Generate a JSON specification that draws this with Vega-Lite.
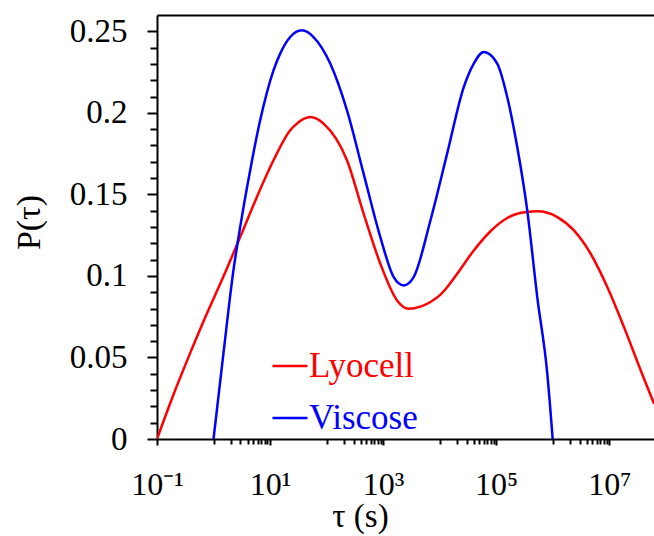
{
  "$schema": "https://vega.github.io/schema/vega-lite/v6.json",
  "width": 497,
  "height": 424,
  "autosize": {"type": "none"},
  "padding": {"left": 157, "top": 15, "right": 0, "bottom": 97},
  "background": "white",
  "config": {
    "view": {"stroke": null},
    "axis": {"grid": false, "domainColor": "black", "tickColor": "black", "labelColor": "black", "titleColor": "black", "labelFont": "Liberation Serif", "titleFont": "Liberation Serif", "domainWidth": 2, "tickWidth": 2, "titleFontWeight": "normal"}
  },
  "data": {"values": [
    {"sample": "Lyocell", "tau": 0.1, "P": 0},
    {"sample": "Lyocell", "tau": 0.1945, "P": 0.027},
    {"sample": "Lyocell", "tau": 0.3846, "P": 0.0525},
    {"sample": "Lyocell", "tau": 0.7603, "P": 0.0768},
    {"sample": "Lyocell", "tau": 1.496, "P": 0.0996},
    {"sample": "Lyocell", "tau": 2.958, "P": 0.1238},
    {"sample": "Lyocell", "tau": 5.834, "P": 0.1483},
    {"sample": "Lyocell", "tau": 11.51, "P": 0.1709},
    {"sample": "Lyocell", "tau": 22.75, "P": 0.1893},
    {"sample": "Lyocell", "tau": 29.85, "P": 0.1934},
    {"sample": "Lyocell", "tau": 51.4, "P": 0.1974},
    {"sample": "Lyocell", "tau": 88.31, "P": 0.1934},
    {"sample": "Lyocell", "tau": 229.6, "P": 0.1709},
    {"sample": "Lyocell", "tau": 451.9, "P": 0.1382},
    {"sample": "Lyocell", "tau": 893.1, "P": 0.1075},
    {"sample": "Lyocell", "tau": 1766, "P": 0.085},
    {"sample": "Lyocell", "tau": 2838, "P": 0.0799},
    {"sample": "Lyocell", "tau": 4571, "P": 0.0812},
    {"sample": "Lyocell", "tau": 6871, "P": 0.084},
    {"sample": "Lyocell", "tau": 10330, "P": 0.0885},
    {"sample": "Lyocell", "tau": 13583, "P": 0.0931},
    {"sample": "Lyocell", "tau": 20420, "P": 0.1013},
    {"sample": "Lyocell", "tau": 40180, "P": 0.1156},
    {"sample": "Lyocell", "tau": 79430, "P": 0.1274},
    {"sample": "Lyocell", "tau": 157000, "P": 0.1355},
    {"sample": "Lyocell", "tau": 236000, "P": 0.1381},
    {"sample": "Lyocell", "tau": 354800, "P": 0.1392},
    {"sample": "Lyocell", "tau": 533300, "P": 0.1396},
    {"sample": "Lyocell", "tau": 1208000, "P": 0.1361},
    {"sample": "Lyocell", "tau": 2377000, "P": 0.1279},
    {"sample": "Lyocell", "tau": 4699000, "P": 0.1136},
    {"sample": "Lyocell", "tau": 9290000, "P": 0.0931},
    {"sample": "Lyocell", "tau": 18280000, "P": 0.0686},
    {"sample": "Lyocell", "tau": 36140000, "P": 0.042},
    {"sample": "Lyocell", "tau": 62090000, "P": 0.0216},
    {"sample": "Viscose", "tau": 1.0, "P": 0},
    {"sample": "Viscose", "tau": 1.496, "P": 0.0523},
    {"sample": "Viscose", "tau": 2.249, "P": 0.1034},
    {"sample": "Viscose", "tau": 2.958, "P": 0.1299},
    {"sample": "Viscose", "tau": 4.446, "P": 0.1647},
    {"sample": "Viscose", "tau": 6.683, "P": 0.1954},
    {"sample": "Viscose", "tau": 11.51, "P": 0.2261},
    {"sample": "Viscose", "tau": 15.1, "P": 0.2363},
    {"sample": "Viscose", "tau": 22.75, "P": 0.2465},
    {"sample": "Viscose", "tau": 36.64, "P": 0.2506},
    {"sample": "Viscose", "tau": 58.75, "P": 0.2465},
    {"sample": "Viscose", "tau": 116.1, "P": 0.2302},
    {"sample": "Viscose", "tau": 229.6, "P": 0.2015},
    {"sample": "Viscose", "tau": 451.9, "P": 0.1627},
    {"sample": "Viscose", "tau": 893.1, "P": 0.1238},
    {"sample": "Viscose", "tau": 1538, "P": 0.0993},
    {"sample": "Viscose", "tau": 2312, "P": 0.0942},
    {"sample": "Viscose", "tau": 3475, "P": 0.0993},
    {"sample": "Viscose", "tau": 6871, "P": 0.134},
    {"sample": "Viscose", "tau": 13583, "P": 0.175},
    {"sample": "Viscose", "tau": 26730, "P": 0.2158},
    {"sample": "Viscose", "tau": 40180, "P": 0.2302},
    {"sample": "Viscose", "tau": 60390, "P": 0.2373},
    {"sample": "Viscose", "tau": 104500, "P": 0.2302},
    {"sample": "Viscose", "tau": 157000, "P": 0.2097},
    {"sample": "Viscose", "tau": 236000, "P": 0.179},
    {"sample": "Viscose", "tau": 354800, "P": 0.1402},
    {"sample": "Viscose", "tau": 533300, "P": 0.087},
    {"sample": "Viscose", "tau": 803500, "P": 0.04},
    {"sample": "Viscose", "tau": 1000000, "P": 0}
  ]},
  "layer": [
    {
      "mark": {"type": "line", "strokeOpacity": 0},
      "encoding": {
        "x": {"field": "tau", "type": "quantitative", "scale": {"type": "log", "domain": [0.1, 62000000], "nice": false},
          "axis": {"orient": "bottom", "values": [1,2,3,4,5,6,7,8,9,100,200,300,400,500,600,700,800,900,10000,20000,30000,40000,50000,60000,70000,80000,90000,1000000,2000000,3000000,4000000,5000000,6000000,7000000,8000000,9000000], "tickSize": 5, "labels": false, "domain": false, "title": null}},
        "y": {"field": "P", "type": "quantitative", "scale": {"domain": [0, 0.26], "nice": false},
          "axis": {"orient": "left", "values": [0.01,0.02,0.03,0.04,0.06,0.07,0.08,0.09,0.11,0.12,0.13,0.14,0.16,0.17,0.18,0.19,0.21,0.22,0.23,0.24], "tickSize": 7, "labels": false, "domain": false, "title": null}},
        "detail": {"field": "sample"}
      }
    },
    {
      "mark": {"type": "line", "strokeOpacity": 0},
      "encoding": {
        "x": {"field": "tau", "type": "quantitative", "axis": {"orient": "top", "domain": true, "ticks": false, "labels": false, "title": null}},
        "y": {"field": "P", "type": "quantitative", "axis": null},
        "detail": {"field": "sample"}
      }
    },
    {
      "mark": {"type": "line", "strokeWidth": 2.5, "interpolate": "monotone", "clip": true},
      "encoding": {
        "x": {"field": "tau", "type": "quantitative",
          "axis": {"orient": "bottom", "values": [0.1, 10, 1000, 100000, 10000000], "tickSize": 6, "labelPadding": 24, "labelFontSize": 32, "labelFlush": false, "labelOverlap": false,
            "labelExpr": "datum.value < 1 ? '10⁻¹' : datum.value < 100 ? '10¹' : datum.value < 10000 ? '10³' : datum.value < 1000000 ? '10⁵' : '10⁷'",
            "title": "τ (s)", "titleFontSize": 33, "titleX": 203, "titleY": 87, "titleBaseline": "alphabetic"}},
        "y": {"field": "P", "type": "quantitative",
          "axis": {"orient": "left", "values": [0, 0.05, 0.1, 0.15, 0.2, 0.25], "format": ".2~f", "tickSize": 10, "labelPadding": 20, "labelFontSize": 33,
            "title": "P(τ)", "titleFontSize": 34, "titleX": -128, "titleY": 207, "titleBaseline": "middle"}},
        "color": {"field": "sample", "type": "nominal",
          "scale": {"domain": ["Lyocell", "Viscose"], "range": ["#ff0000", "#0000ff"]},
          "legend": {"orient": "none", "legendX": 114, "legendY": 332, "title": null, "symbolType": "stroke", "symbolSize": 1225, "symbolStrokeWidth": 2.5, "labelFontSize": 35, "labelFont": "Liberation Serif", "padding": 0, "rowPadding": 15, "labelOffset": 0, "labelLimit": 0,
            "encode": {"labels": {"update": {"fill": {"signal": "datum.value === 'Lyocell' ? '#ff0000' : '#0000ff'"}}}}}}
      }
    }
  ],
  "resolve": {"axis": {"x": "independent", "y": "independent"}}
}
